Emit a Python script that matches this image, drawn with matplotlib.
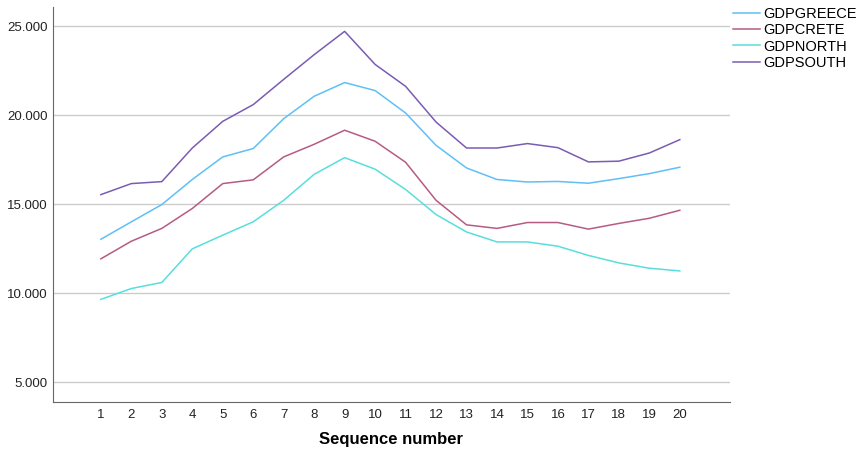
import matplotlib
matplotlib.use("Agg")
import matplotlib.pyplot as plt
from matplotlib.ticker import FuncFormatter

plt.rcParams['font.family'] = ['Liberation Sans', 'DejaVu Sans']

seq = list(range(1, 21))

gdp_greece = [13030, 14010, 14980, 16390, 17660, 18130, 19810, 21070, 21840, 21390,
              20130, 18310, 17040, 16390, 16250, 16280, 16180, 16440, 16720, 17080]
gdp_crete = [11930, 12920, 13640, 14760, 16160, 16370, 17660, 18370, 19160, 18540,
             17360, 15220, 13840, 13640, 13970, 13970, 13600, 13920, 14210, 14660]
gdp_north = [9650, 10260, 10600, 12490, 13260, 14010, 15220, 16680, 17620, 16970,
             15830, 14420, 13440, 12880, 12880, 12640, 12120, 11700, 11400, 11250]
gdp_south = [15540, 16160, 16270, 18160, 19660, 20600, 22020, 23410, 24720, 22860,
             21630, 19620, 18160, 18160, 18410, 18180, 17380, 17420, 17880, 18630]

series = [("GDPGREECE", gdp_greece, "#5fbff7"),
          ("GDPCRETE", gdp_crete, "#b65b84"),
          ("GDPNORTH", gdp_north, "#58dedd"),
          ("GDPSOUTH", gdp_south, "#7a5cb3")]

fig = plt.figure(figsize=(8.61, 4.5), dpi=100)
ax = fig.add_axes([0.0616, 0.1067, 0.786, 0.877])

for name, vals, col in series:
    ax.plot(seq, vals, color=col, lw=1.1, label=name)

ax.set_xlim(-0.57, 21.64)
ax.set_ylim(3880, 26070)
ax.set_xticks(seq)
ax.set_yticks([5000, 10000, 15000, 20000, 25000])
ax.yaxis.set_major_formatter(FuncFormatter(lambda v, p: "{:,.0f}".format(v).replace(",", ".")))
ax.yaxis.grid(True, color="#cccccc", lw=1)
ax.set_axisbelow(True)
ax.tick_params(length=0, labelsize=9.5, colors="#222222")
ax.tick_params(axis='x', pad=5)
ax.tick_params(axis='y', pad=4)
for s in ["top", "right"]:
    ax.spines[s].set_visible(False)
for s in ["left", "bottom"]:
    ax.spines[s].set_color("#666666")
ax.set_xlabel("Sequence number", fontsize=12, fontweight="bold", labelpad=8)

ax.legend(loc="upper left", bbox_to_anchor=(0.996, 1.016), frameon=False, fontsize=10.5,
          handlelength=1.85, handletextpad=0.2, labelspacing=0.16, borderaxespad=0)

fig.savefig("out.png", dpi=100)
